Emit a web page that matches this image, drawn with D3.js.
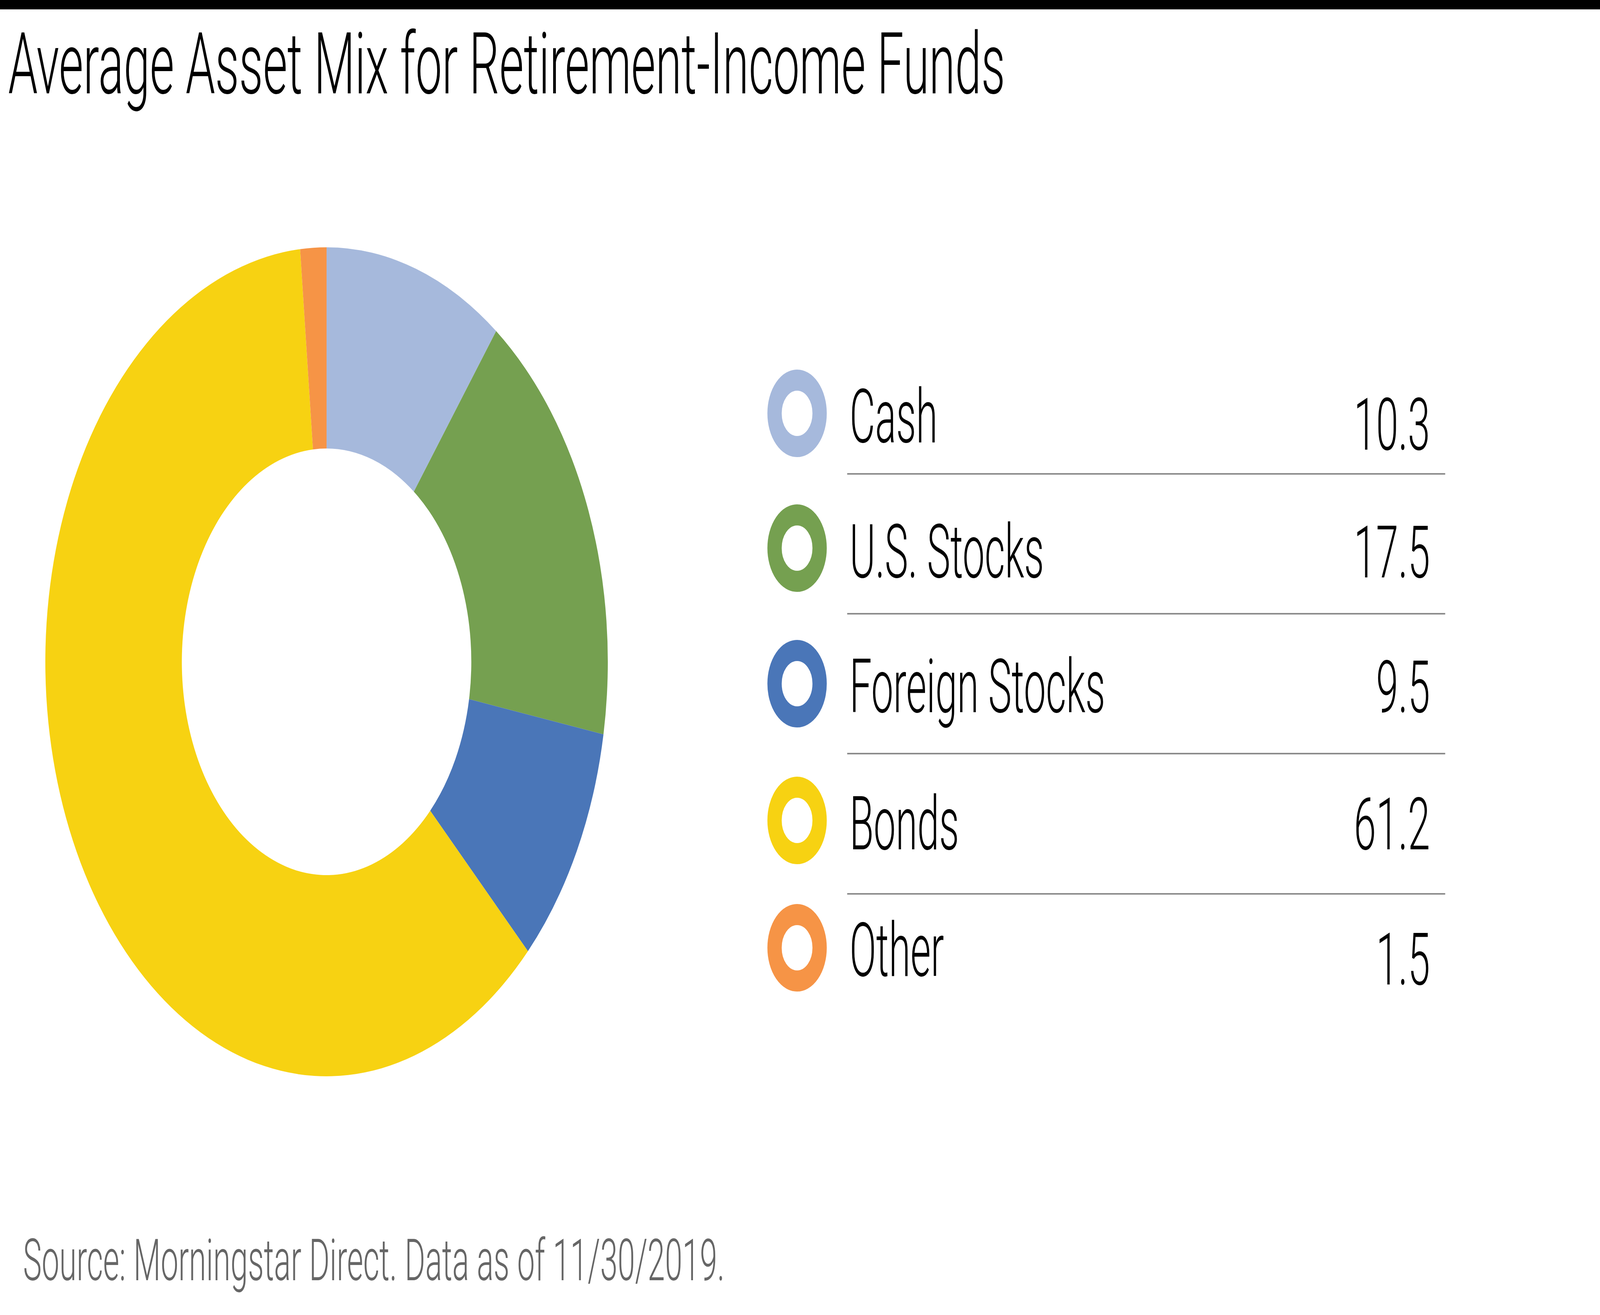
<!doctype html>
<html>
  <head>
    <meta charset="utf-8">
    <title>Average Asset Mix for Retirement-Income Funds</title>
    <script src="https://cdnjs.cloudflare.com/ajax/libs/d3/7.8.5/d3.min.js"></script>
    <style>
      html, body { margin: 0; padding: 0; width: 100%; height: 100%; overflow: hidden; background: #fff; }
      svg { display: block; width: 100vw; height: 100vh; }
      text { font-family: Roboto, "Noto Sans", sans-serif; font-weight: 300; }
    </style>
  </head>
  <body>
    <!-- the browser caps the window width, so the 6036x3366 drawing is fitted to whatever viewport we get -->
    <svg id="chart" viewBox="0 0 6036 3366" preserveAspectRatio="none"></svg>
    <script>
      // data
      var categories = ["Cash", "U.S. Stocks", "Foreign Stocks", "Bonds", "Other"];
      var values = [10.3, 17.5, 9.5, 61.2, 1.5];
      var valueLabels = ["10.3", "17.5", "9.5", "61.2", "1.5"];
      var colors = ["#a6b9dc", "#75a050", "#4a76b8", "#f7d212", "#f69446"];

      var titleText = "Average Asset Mix for Retirement-Income Funds";
      var sourceText = "Source: Morningstar Direct. Data as of 11/30/2019.";

      // layout
      var W = 6036, H = 3366;
      var cx = 1232, cy = 1694, rOuter = 1061, rInner = 546;
      var rowCircleY = [1058, 1403, 1750, 2100, 2426];
      var rowLabelY = [1132, 1478, 1823, 2174, 2498];
      var rowValueY = [1151, 1478, 1823, 2174, 2520];
      var ruleY = [1213, 1571, 1929, 2288];

      var svg = d3.select("#chart");

      svg.append("rect")
         .attr("x", 0).attr("y", 0)
         .attr("width", W).attr("height", 24)
         .attr("fill", "#000");

      // title, squeezed to the condensed width of the original
      var title = svg.append("text")
         .attr("x", 31).attr("y", 239)
         .attr("font-size", 219)
         .attr("fill", "#000")
         .text(titleText);
      var natural = title.node().getComputedTextLength();
      var squeeze = 3761 / natural;
      title.attr("textLength", 3761).attr("lengthAdjust", "spacingAndGlyphs");

      svg.append("text")
         .attr("x", 87).attr("y", 3277)
         .attr("font-size", 149)
         .attr("fill", "#666")
         .attr("textLength", 2647)
         .attr("lengthAdjust", "spacingAndGlyphs")
         .text(sourceText);

      // donut
      var pie = d3.pie().sort(null).value(function(d){ return d; });
      var arc = d3.arc().innerRadius(rInner).outerRadius(rOuter);
      var color = d3.scaleOrdinal().domain(categories).range(colors);

      svg.append("g")
         .attr("transform", "translate(" + cx + "," + cy + ")")
         .selectAll("path")
         .data(pie(values))
         .enter()
         .append("path")
         .attr("d", arc)
         .attr("fill", function(d, i){ return color(categories[i]); });

      // legend table
      var legend = svg.append("g");

      legend.selectAll("line")
         .data(ruleY)
         .enter()
         .append("line")
         .attr("x1", 3196).attr("x2", 5452)
         .attr("y1", function(d){ return d; })
         .attr("y2", function(d){ return d; })
         .attr("stroke", "#8c8c8c")
         .attr("stroke-width", 4);

      legend.selectAll("circle")
         .data(categories)
         .enter()
         .append("circle")
         .attr("cx", 3007)
         .attr("cy", function(d, i){ return rowCircleY[i]; })
         .attr("r", 85)
         .attr("fill", "none")
         .attr("stroke", function(d){ return color(d); })
         .attr("stroke-width", 54);

      legend.selectAll("text.label")
         .data(categories)
         .enter()
         .append("text")
         .attr("class", "label")
         .attr("x", 3205)
         .attr("y", function(d, i){ return rowLabelY[i]; })
         .attr("font-size", 192)
         .attr("fill", "#000")
         .text(function(d){ return d; })
         .each(function(){
            var w = this.getComputedTextLength();
            d3.select(this).attr("textLength", w * squeeze * 0.95).attr("lengthAdjust", "spacingAndGlyphs");
         });

      legend.selectAll("text.value")
         .data(valueLabels)
         .enter()
         .append("text")
         .attr("class", "value")
         .attr("x", 5395)
         .attr("y", function(d, i){ return rowValueY[i]; })
         .attr("font-size", 186)
         .attr("fill", "#000")
         .attr("text-anchor", "end")
         .text(function(d){ return d; })
         .each(function(){
            var w = this.getComputedTextLength();
            d3.select(this).attr("textLength", w * squeeze).attr("lengthAdjust", "spacingAndGlyphs");
         });
    </script>
  </body>
</html>
